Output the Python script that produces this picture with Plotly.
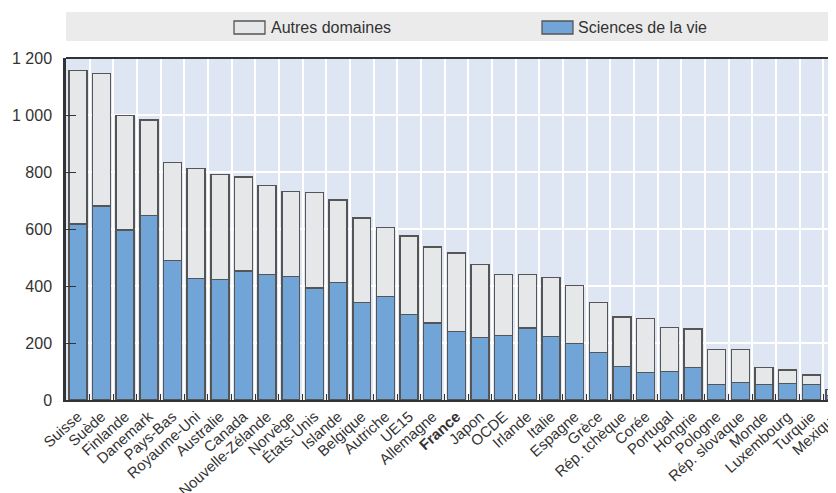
import plotly.graph_objects as go

# ---------- Data ----------

pays = [
    'Suisse', 'Suède', 'Finlande', 'Danemark', 'Pays-Bas', 'Royaume-Uni',
    'Australie', 'Canada', 'Nouvelle-Zélande', 'Norvège', 'États-Unis',
    'Islande', 'Belgique', 'Autriche', 'UE15', 'Allemagne', 'France',
    'Japon', 'OCDE', 'Irlande', 'Italie', 'Espagne', 'Grèce',
    'Rép. tchèque', 'Corée', 'Portugal', 'Hongrie', 'Pologne',
    'Rép. slovaque', 'Monde', 'Luxembourg', 'Turquie', 'Mexique'
]

sciences_de_la_vie = [
    618, 681, 596, 647, 490, 427, 422, 452, 440, 433, 393,
    413, 343, 364, 301, 270, 240, 220, 227, 253, 223, 198,
    167, 117, 96, 101, 115, 54, 62, 54, 58, 54, 16
]

autres_domaines = [
    538, 464, 403, 336, 344, 385, 370, 330, 313, 299, 335,
    289, 296, 241, 274, 267, 276, 255, 213, 187, 207, 203,
    175, 174, 191, 153, 134, 123, 115, 59, 47, 34, 21
]

y_ticks = [0, 200, 400, 600, 800, 1000, 1200]
y_tick_labels = ['0', '200', '400', '600', '800', '1 000', '1 200']

# ---------- Styles ----------

FONT = 'Liberation Sans, Arial, sans-serif'
TEXT = '#333333'
EDGE = '#555555'
BLUE = '#72a5d7'
GREY = '#e6e7e8'

tick_text = ['<b>%s</b>' % p if p == 'France' else p for p in pays]

fig = go.Figure()

fig.add_trace(go.Bar(
    x=pays, y=sciences_de_la_vie, name='Sciences de la vie',
    marker=dict(color=BLUE, line=dict(color=EDGE, width=1.4)),
    showlegend=False
))
fig.add_trace(go.Bar(
    x=pays, y=autres_domaines, name='Autres domaines',
    marker=dict(color=GREY, line=dict(color=EDGE, width=1.4)),
    showlegend=False
))

# legend band, symbols and labels (paper coords; plot area = 770 x 342 px)
shapes = [
    dict(type='rect', xref='paper', yref='paper', x0=0, x1=1,
         y0=1.0497, y1=1.1345, fillcolor='#ebebeb', line_width=0, layer='below'),
    dict(type='rect', xref='paper', yref='paper', x0=0.2182, x1=0.2584,
         y0=1.0702, y1=1.1082, fillcolor=GREY, line=dict(color=EDGE, width=1.3)),
    dict(type='rect', xref='paper', yref='paper', x0=0.6182, x1=0.6584,
         y0=1.0702, y1=1.1082, fillcolor=BLUE, line=dict(color=EDGE, width=1.3)),
    dict(type='line', xref='paper', yref='paper', x0=0, x1=1, y0=1, y1=1,
         line=dict(color=TEXT, width=2)),
]

annotations = [
    dict(text='Autres domaines', xref='paper', yref='paper', x=0.2636, y=1.0892,
         xanchor='left', yanchor='middle', showarrow=False,
         font=dict(family=FONT, size=16, color=TEXT)),
    dict(text='Sciences de la vie', xref='paper', yref='paper', x=0.6623, y=1.0892,
         xanchor='left', yanchor='middle', showarrow=False,
         font=dict(family=FONT, size=16, color=TEXT)),
]

# page body adds an 8 px margin, so the figure is 8 px smaller than the window
fig.update_layout(
    width=828,
    height=485,
    margin=dict(l=58, r=0, t=50, b=93),
    barmode='stack',
    bargap=0.24,
    plot_bgcolor='#dfe6f3',
    paper_bgcolor='white',
    font=dict(family=FONT, color=TEXT),
    shapes=shapes,
    annotations=annotations,
)

fig.update_xaxes(
    automargin=False,
    range=[-0.5, 32.04],
    tickmode='array',
    tickvals=pays,
    ticktext=tick_text,
    tickangle=-42,
    tickfont=dict(size=15, color=TEXT),
    tickson='boundaries',
    ticks='inside',
    ticklen=6,
    tickcolor=TEXT,
    showgrid=True,
    gridcolor='white',
    gridwidth=1.5,
    showline=True,
    linecolor=TEXT,
    linewidth=2,
)

fig.update_yaxes(
    automargin=False,
    range=[0, 1200],
    tickmode='array',
    tickvals=y_ticks,
    ticktext=y_tick_labels,
    tickfont=dict(size=16, color=TEXT),
    ticks='inside',
    ticklen=10,
    tickcolor=TEXT,
    ticklabelstandoff=8,
    showgrid=True,
    gridcolor='white',
    gridwidth=1.5,
    zeroline=False,
    showline=True,
    linecolor=TEXT,
    linewidth=2.5,
)

fig.write_html('out.html')
